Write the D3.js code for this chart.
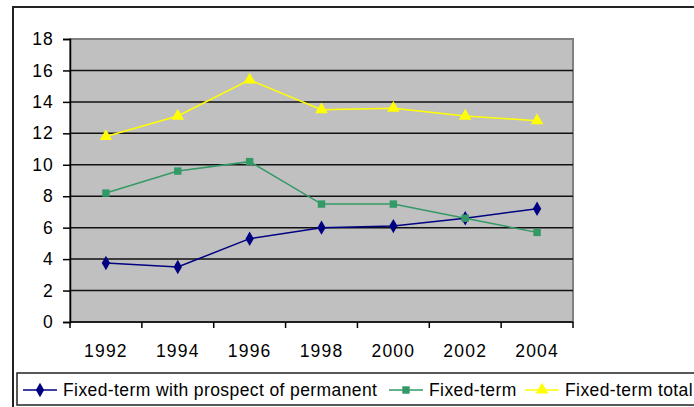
<!DOCTYPE html>
<html>
<head>
<meta charset="utf-8">
<script src="https://cdn.jsdelivr.net/npm/d3@7"></script>
<style>
  body { margin: 0; background: #fff; }
  svg { display: block; font-family: "Liberation Sans", Arial, sans-serif; }
</style>
</head>
<body>
<svg id="chart" width="694" height="407"></svg>
<script>
const years = ["1992", "1994", "1996", "1998", "2000", "2002", "2004"];
const prospect = [3.75, 3.5, 5.3, 6.0, 6.1, 6.6, 7.2];
const fixedTerm = [8.2, 9.6, 10.2, 7.5, 7.5, 6.6, 5.7];
const fixedTotal = [11.8, 13.1, 15.4, 13.5, 13.6, 13.1, 12.8];
const yTicks = [0, 2, 4, 6, 8, 10, 12, 14, 16, 18];

const series = [
  { name: "Fixed-term with prospect of permanent", values: prospect, color: "#000080", marker: d3.symbolDiamond, size: 60 },
  { name: "Fixed-term", values: fixedTerm, color: "#339966", marker: d3.symbolSquare, size: 55 },
  { name: "Fixed-term total", values: fixedTotal, color: "#ffff00", marker: d3.symbolTriangle, size: 68 }
];

const svg = d3.select("#chart");
const plot = { left: 70, top: 39, right: 573, bottom: 322 };

// outer chart frame
svg.append("rect")
  .attr("x", 13).attr("y", 7)
  .attr("width", 700).attr("height", 420)
  .attr("fill", "#fff").attr("stroke", "#222").attr("stroke-width", 2);

const x = d3.scaleBand().domain(years).range([plot.left, plot.right]);
const y = d3.scaleLinear().domain([0, 18]).range([plot.bottom, plot.top]);

// plot area
svg.append("rect")
  .attr("x", plot.left).attr("y", plot.top)
  .attr("width", plot.right - plot.left).attr("height", plot.bottom - plot.top)
  .attr("fill", "#c0c0c0").attr("stroke", "#808080").attr("stroke-width", 2);

// gridlines
svg.append("g").selectAll("line")
  .data(yTicks.filter(d => d > 0 && d < 18))
  .join("line")
  .attr("x1", plot.left).attr("x2", plot.right)
  .attr("y1", d => y(d)).attr("y2", d => y(d))
  .attr("stroke", "#111").attr("stroke-width", 1.5);

// y axis
const yAxis = svg.append("g")
  .attr("transform", `translate(${plot.left},0)`)
  .call(d3.axisLeft(y).tickValues(yTicks).tickSize(7).tickPadding(9));
yAxis.select(".domain").attr("stroke", "#000").attr("stroke-width", 1.5);
yAxis.selectAll(".tick line").attr("stroke", "#000").attr("stroke-width", 1.5);
yAxis.selectAll("text").attr("font-size", 17.5).attr("fill", "#000")
  .attr("letter-spacing", 1.2)
  .attr("font-family", "Liberation Sans, Arial, sans-serif");

// x axis: ticks at category boundaries
const xAxis = svg.append("g")
  .attr("transform", `translate(0,${plot.bottom})`);
xAxis.append("line")
  .attr("x1", plot.left).attr("x2", plot.right)
  .attr("stroke", "#000").attr("stroke-width", 1.5);
xAxis.selectAll("line.tk")
  .data(years.concat(["end"]))
  .join("line").attr("class", "tk")
  .attr("x1", (d, i) => i < years.length ? x(d) : plot.right)
  .attr("x2", (d, i) => i < years.length ? x(d) : plot.right)
  .attr("y1", 0).attr("y2", 6)
  .attr("stroke", "#000").attr("stroke-width", 1.5);
xAxis.selectAll("text")
  .data(years)
  .join("text")
  .attr("x", d => x(d) + x.bandwidth() / 2)
  .attr("y", 35)
  .attr("text-anchor", "middle")
  .attr("font-size", 17.5)
  .attr("letter-spacing", 1.2)
  .text(d => d);

// series
const line = d3.line()
  .x((d, i) => x(years[i]) + x.bandwidth() / 2)
  .y(d => y(d));

series.forEach(s => {
  svg.append("path")
    .datum(s.values)
    .attr("d", line)
    .attr("fill", "none")
    .attr("stroke", s.color)
    .attr("stroke-width", 1.5);
  svg.append("g").selectAll("path")
    .data(s.values)
    .join("path")
    .attr("transform", (d, i) => `translate(${x(years[i]) + x.bandwidth() / 2},${y(d)})`)
    .attr("d", d3.symbol(s.marker, s.size))
    .attr("fill", s.color);
});

// legend
const legend = svg.append("g");
legend.append("rect")
  .attr("x", 17).attr("y", 373)
  .attr("width", 690).attr("height", 32)
  .attr("fill", "#fff").attr("stroke", "#222").attr("stroke-width", 1.5);

const legendX = [23, 389, 525];
series.forEach((s, i) => {
  const g = legend.append("g").attr("transform", `translate(${legendX[i]},390)`);
  g.append("line").attr("x1", 0).attr("x2", 34)
    .attr("stroke", s.color).attr("stroke-width", 1.5);
  g.append("path").attr("transform", "translate(17,0)")
    .attr("d", d3.symbol(s.marker, s.size)).attr("fill", s.color);
  g.append("text").attr("x", 40).attr("y", 0).attr("dy", "0.35em")
    .attr("font-size", 17.5).attr("letter-spacing", 0.4).text(s.name);
});
</script>
</body>
</html>
